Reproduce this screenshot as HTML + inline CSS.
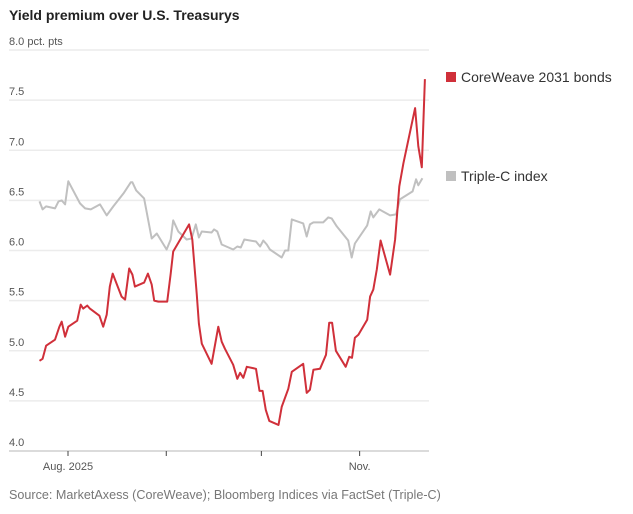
<!DOCTYPE html>
<html><head><meta charset="utf-8"><style>
body{margin:0;background:#fff;font-family:"Liberation Sans",sans-serif;}
svg{display:block}
</style></head><body>
<svg id="c" width="633" height="514">
<text x="9" y="20" font-size="14" font-weight="bold" fill="#222">Yield premium over U.S. Treasurys</text>
<g id="grid"></g><g id="lines"></g>
<g>
<rect x="446" y="72" width="10" height="10" fill="#d0303a"/>
<text x="461" y="82" font-size="14" fill="#333">CoreWeave 2031 bonds</text>
<rect x="446" y="171" width="10" height="10" fill="#c0c0c0"/>
<text x="461" y="181" font-size="14" fill="#333">Triple-C index</text>
</g>
<text x="9" y="499" font-size="12.6" fill="#777">Source: MarketAxess (CoreWeave); Bloomberg Indices via FactSet (Triple-C)</text>
</svg>
<script>
const yTicks=[4.0,4.5,5.0,5.5,6.0,6.5,7.0,7.5,8.0];
const xTickDays=[0,31,61,92];
const xTickLabels=["Aug. 2025","","","Nov."];
const redDays=[-9,-8,-6.9,-4.1,-2.7,-2,-0.9,0.1,2.9,4,4.8,6.1,6.9,9.9,11.1,12.2,13.2,14.1,16.9,18,19.3,20.3,21.1,24,25.2,26.4,27.2,28.5,31.3,32.4,33.2,38.2,39.2,40.6,41.3,42.2,45.3,47.4,48.5,49.5,52.1,53.4,54.3,55.3,56.4,59.3,60.4,61.4,62.4,63.5,66.4,67.4,69.5,70.6,74.2,75.3,76.3,77.4,79.5,81.4,82.4,83.3,84.5,87.6,88.7,89.6,90.5,91.6,94.4,95.3,96.3,97.4,98.6,101.6,103.2,104.5,105.8,109.5,110.5,111.6,112.6];
const redVals=[4.90,4.92,5.05,5.11,5.24,5.29,5.14,5.24,5.30,5.46,5.42,5.45,5.42,5.35,5.24,5.36,5.64,5.77,5.54,5.51,5.82,5.76,5.64,5.68,5.77,5.66,5.50,5.49,5.49,5.77,5.99,6.26,6.11,5.57,5.27,5.07,4.87,5.24,5.09,5.02,4.86,4.72,4.78,4.73,4.84,4.82,4.60,4.60,4.41,4.30,4.26,4.44,4.62,4.79,4.87,4.58,4.61,4.81,4.82,4.96,5.28,5.28,5.00,4.84,4.94,4.93,5.13,5.16,5.31,5.54,5.61,5.81,6.10,5.76,6.11,6.64,6.87,7.42,7.04,6.83,7.71];
const grayDays=[-9,-8,-6.9,-4.1,-3,-2,-0.9,0.1,3.8,5.4,7.2,10.1,12.2,14.3,17.5,19.8,20.3,21.5,24,26.4,28,31.1,32.4,33.2,34.8,37.4,39,40.3,41.3,42.2,45.3,46.1,47.1,48.5,52.1,53.4,54.5,55.6,59.3,60.6,61.6,62.7,63.7,67.4,68.5,69.5,70.6,74.2,75.3,76.3,77.4,79.5,80.5,82.1,83.2,84.8,88.4,89.5,90.5,94.4,95.5,96.3,98.2,101.6,103.5,104.7,108.7,109.8,110.5,111.8];
const grayVals=[6.49,6.41,6.44,6.42,6.49,6.50,6.46,6.69,6.47,6.42,6.41,6.46,6.35,6.44,6.57,6.68,6.68,6.60,6.52,6.12,6.17,6.01,6.11,6.30,6.19,6.11,6.12,6.26,6.13,6.19,6.18,6.21,6.19,6.06,6.01,6.04,6.03,6.11,6.09,6.04,6.10,6.06,6.01,5.93,6.00,6.00,6.31,6.27,6.14,6.26,6.28,6.28,6.28,6.33,6.32,6.24,6.10,5.93,6.07,6.25,6.39,6.33,6.41,6.35,6.36,6.51,6.59,6.71,6.65,6.72];
const NS="http://www.w3.org/2000/svg";
const X=d=>68+d*3.17, Y=v=>451-(v-4)*100.25;
const grid=document.getElementById('grid'), lines=document.getElementById('lines');
function mk(tag,attrs,parent){const e=document.createElementNS(NS,tag);for(const k in attrs)e.setAttribute(k,attrs[k]);parent.appendChild(e);return e;}
yTicks.forEach((v,i)=>{
 const l=mk('line',{x1:9,x2:429,y1:Y(v),y2:Y(v),stroke:i===0?'#cfcfcf':'#ececec','stroke-width':1.5},grid);
 
 
 const t=mk('text',{x:9,y:Y(v)-5,'font-size':11,fill:'#555'},grid);
 t.textContent=v.toFixed(1)+(i===yTicks.length-1?' pct. pts':'');
 
 
});
xTickDays.forEach((d,i)=>{
 const l=mk('line',{x1:X(d),x2:X(d),y1:451,y2:456,stroke:'#444','stroke-width':1},grid);
 
 
 if(xTickLabels[i]){const t=mk('text',{x:X(d),y:470,'font-size':11,fill:'#555','text-anchor':'middle'},grid);
 t.textContent=xTickLabels[i];
 
 }
});
function path(days,vals,color,name){
 const p=mk('path',{d:days.map((d,i)=>(i?'L':'M')+X(d).toFixed(1)+' '+Y(vals[i]).toFixed(1)).join(' '),fill:'none',stroke:color,'stroke-width':2,'stroke-linejoin':'round'},lines);
 
 
}
path(grayDays,grayVals,'#c0c0c0','triple-c-line');
path(redDays,redVals,'#d0303a','coreweave-line');
</script>
</body></html>
